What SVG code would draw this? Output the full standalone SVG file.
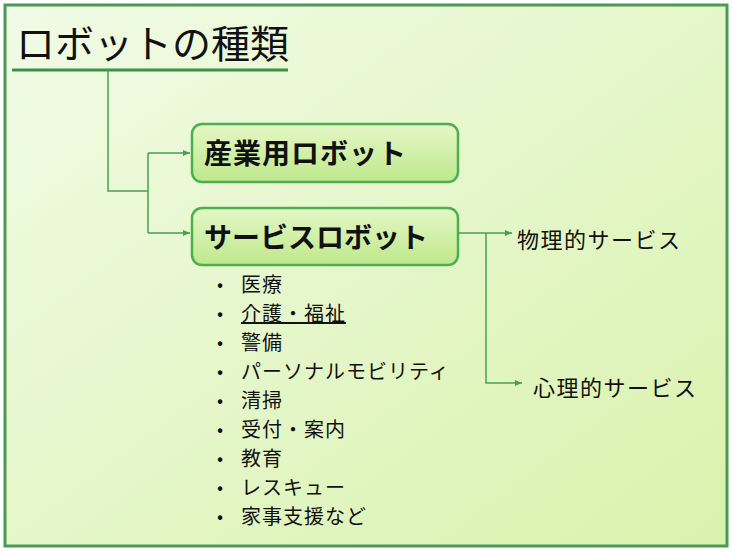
<svg xmlns="http://www.w3.org/2000/svg" width="733" height="551" viewBox="0 0 733 551">
<defs>
<linearGradient id="bg" x1="0" y1="0" x2="1" y2="1"><stop offset="0" stop-color="#f1fbe6"/><stop offset="1" stop-color="#d9f2ad"/></linearGradient>
<linearGradient id="bx" x1="0" y1="0" x2="0" y2="1"><stop offset="0" stop-color="#e4f7c6"/><stop offset="1" stop-color="#bfe88c"/></linearGradient>
<marker id="ar" markerWidth="8" markerHeight="8" refX="7" refY="4" orient="auto" markerUnits="userSpaceOnUse"><path d="M0,1 L7,4 L0,7 z" fill="#4a9e55"/></marker>
<style>
text{font-family:"Noto Sans CJK JP","Liberation Sans",sans-serif;fill:#111}
.box{fill:url(#bx);stroke:#4caf50;stroke-width:2.5}
.c{fill:none;stroke:#4a9e55;stroke-width:1.5}
.b{font-weight:bold;font-size:28px;letter-spacing:1px}
.li{font-size:20px;letter-spacing:1px}
.s{font-size:22px;letter-spacing:1.5px}
</style>
</defs>
<rect x="5" y="5" width="722" height="541" fill="url(#bg)" stroke="#4a9a55" stroke-width="3"/>
<g id="title"><text x="16" y="58" font-size="39">ロボットの種類</text><line x1="12" y1="70" x2="288" y2="70" stroke="#3f8f4a" stroke-width="3"/></g>
<g id="connectors">
<path class="c" d="M108,70 V191 H148"/>
<path class="c" d="M148,153 V233"/>
<path class="c" d="M148,153 H190" marker-end="url(#ar)"/>
<path class="c" d="M148,233 H190" marker-end="url(#ar)"/>
<path class="c" d="M458,233 H512" marker-end="url(#ar)"/>
<path class="c" d="M486,233 V383 H522" marker-end="url(#ar)"/>
</g>
<g id="industrial"><rect class="box" x="192" y="124" width="266" height="58" rx="10"/><text class="b" x="204" y="164">産業用ロボット</text></g>
<g id="service"><rect class="box" x="192" y="208" width="266" height="57" rx="10"/><text class="b" x="204" y="248" style="font-size:28px;letter-spacing:0">サービスロボット</text></g>
<g id="physical"><text class="s" x="517" y="248">物理的サービス</text></g>
<g id="mental"><text class="s" x="533" y="396">心理的サービス</text></g>
<g id="list">
<g font-size="18" font-family="Liberation Sans"><text x="217" y="291">•</text><text x="217" y="320">•</text><text x="217" y="349">•</text><text x="217" y="378">•</text><text x="217" y="407">•</text><text x="217" y="436">•</text><text x="217" y="465">•</text><text x="217" y="494">•</text><text x="217" y="523">•</text></g>
<text class="li" x="241" y="292">医療</text>
<text class="li" x="241" y="321"><tspan text-decoration="underline">介護・福祉</tspan></text>
<text class="li" x="241" y="350">警備</text>
<text class="li" x="241" y="379">パーソナルモビリティ</text>
<text class="li" x="241" y="408">清掃</text>
<text class="li" x="241" y="437">受付・案内</text>
<text class="li" x="241" y="466">教育</text>
<text class="li" x="241" y="495">レスキュー</text>
<text class="li" x="241" y="524">家事支援など</text>
</g>
</svg>
